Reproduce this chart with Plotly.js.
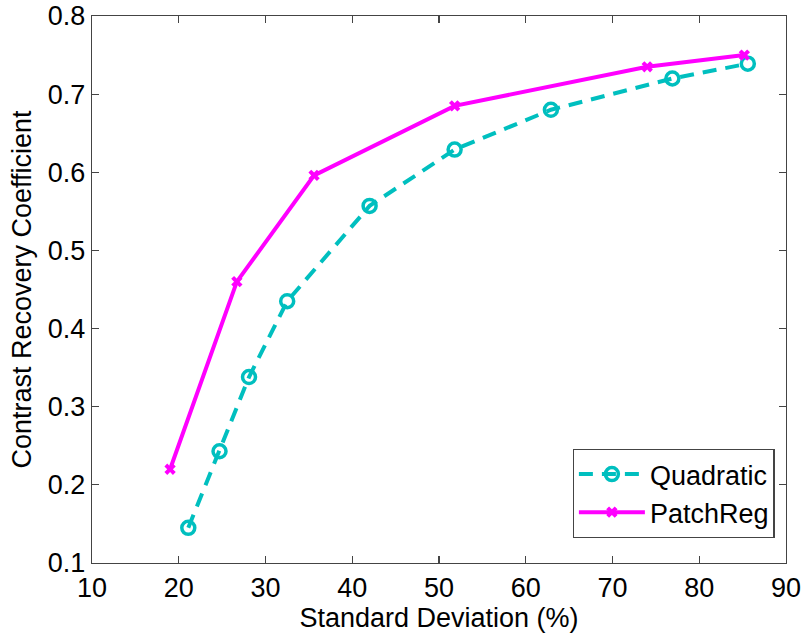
<!DOCTYPE html>
<html>
<head>
<meta charset="utf-8">
<script src="https://cdn.plot.ly/plotly-3.0.1.min.js"></script>
<style>html,body{margin:0;padding:0;background:#fff;}#chart{width:807px;height:637px;}</style>
</head>
<body>
<div id="chart"></div>
<script>
var seriesNames = ["Quadratic", "PatchReg"];
var quadX = [21.1, 24.7, 28.1, 32.5, 42.0, 51.8, 62.9, 76.9, 85.6];
var quadY = [0.145, 0.243, 0.338, 0.435, 0.557, 0.629, 0.680, 0.720, 0.739];
var patchX = [19.0, 26.7, 35.6, 51.8, 74.0, 85.2];
var patchY = [0.220, 0.460, 0.596, 0.685, 0.735, 0.750];
var xTicks = [10, 20, 30, 40, 50, 60, 70, 80, 90];
var yTicks = [0.1, 0.2, 0.3, 0.4, 0.5, 0.6, 0.7, 0.8];

var font = "Liberation Sans, Arial, Helvetica, sans-serif";
var traces = [
  {x: quadX, y: quadY, name: seriesNames[0], type: "scatter", mode: "lines+markers",
   line: {color: "#00bfbf", width: 4, dash: "14px,9px"},
   marker: {symbol: "circle-open", size: 13, color: "#00bfbf", line: {width: 3.5, color: "#00bfbf"}}},
  {x: patchX, y: patchY, name: seriesNames[1], type: "scatter", mode: "lines+markers",
   line: {color: "#ff00ff", width: 4},
   marker: {symbol: "x", size: 10, color: "#ff00ff"}}
];
var axisCommon = {
  showline: true, mirror: "ticks", linecolor: "#444", linewidth: 1.2,
  ticks: "inside", ticklen: 7, tickcolor: "#444", tickwidth: 1.2,
  showgrid: false, zeroline: false,
  tickfont: {family: font, size: 27, color: "#000"}
};
var layout = {
  width: 807, height: 637,
  margin: {l: 92, r: 21, t: 16, b: 74},
  paper_bgcolor: "#fff", plot_bgcolor: "#fff",
  showlegend: true,
  legend: {x: 0.9837, y: 0.046, xanchor: "right", yanchor: "bottom",
           bordercolor: "#444", borderwidth: 1.2, bgcolor: "#fff", itemwidth: 66,
           font: {family: font, size: 27, color: "#000"}, tracegroupgap: 0},
  xaxis: Object.assign({}, axisCommon, {
    range: [10, 90], tickvals: xTicks, ticktext: xTicks.map(String),
    title: {text: "Standard Deviation (%)", font: {family: font, size: 27, color: "#000"}, standoff: 0}
  }),
  yaxis: Object.assign({}, axisCommon, {
    range: [0.1, 0.8], tickvals: yTicks, ticktext: yTicks.map(function(v){return v.toFixed(1);}),
    title: {text: "Contrast Recovery Coefficient", font: {family: font, size: 27, color: "#000"}, standoff: 8}
  })
};
Plotly.newPlot("chart", traces, layout, {displayModeBar: false, staticPlot: true});
</script>
</body>
</html>
